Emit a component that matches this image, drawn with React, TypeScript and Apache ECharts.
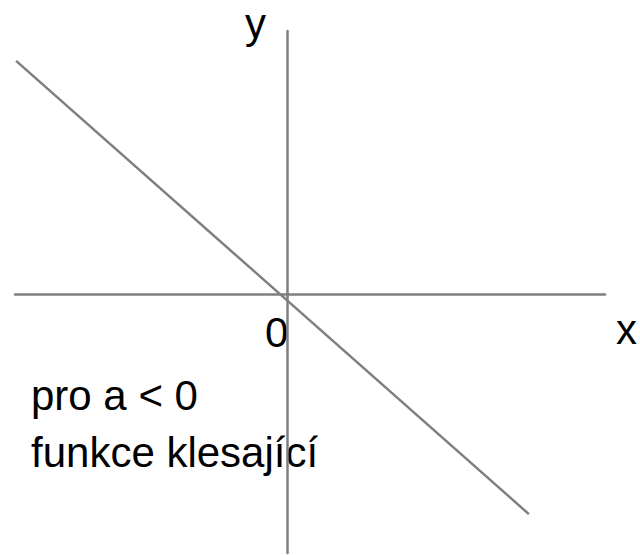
import React, { useEffect, useRef } from "react";
import * as echarts from "echarts";

// Axis extents (data units)
const xRange = [-10, 11.7];
const yRange = [-9.5, 9.7];
// Decreasing linear function y = a·x, a < 0 — endpoints of the drawn segment
const lineX = [-9.96, 8.9];
const lineY = [8.6, -8.07];
// Texts
const axisNames = ["x", "y"];
const originLabel = "0";
const captions = ["pro a < 0", "funkce klesající"];

const FONT = "'Liberation Sans', Arial, Helvetica, sans-serif";
const GRAY = "#7f7f7f";

const txt = (text: string, x: number, y: number) => ({
  type: "text",
  x,
  y,
  style: { text, font: `42px ${FONT}`, fill: "#000", verticalAlign: "top", align: "left" },
});

export default function App() {
  const ref = useRef<HTMLDivElement>(null);
  useEffect(() => {
    document.body.style.margin = "0";
    const chart = echarts.init(ref.current!, null, { renderer: "svg" });
    chart.setOption({
      animation: false,
      backgroundColor: "#ffffff",
      grid: { left: 15, right: 35, top: 31, bottom: 2 },
      xAxis: {
        type: "value",
        min: xRange[0],
        max: xRange[1],
        axisLine: { show: true, onZero: true, lineStyle: { color: GRAY, width: 2.5 } },
        axisTick: { show: false },
        axisLabel: { show: false },
        splitLine: { show: false },
      },
      yAxis: {
        type: "value",
        min: yRange[0],
        max: yRange[1],
        axisLine: { show: true, onZero: true, lineStyle: { color: GRAY, width: 2.5 } },
        axisTick: { show: false },
        axisLabel: { show: false },
        splitLine: { show: false },
      },
      series: [
        {
          type: "line",
          data: lineX.map((x, i) => [x, lineY[i]]),
          symbol: "none",
          lineStyle: { color: GRAY, width: 2.5 },
          silent: true,
        },
      ],
      graphic: [
        txt(axisNames[1], 245, 2),
        txt(axisNames[0], 616, 308),
        txt(originLabel, 265, 311),
        txt(captions[0], 31, 374),
        txt(captions[1], 31, 431),
      ],
    });
    return () => chart.dispose();
  }, []);
  return <div ref={ref} style={{ width: 640, height: 555 }} />;
}
